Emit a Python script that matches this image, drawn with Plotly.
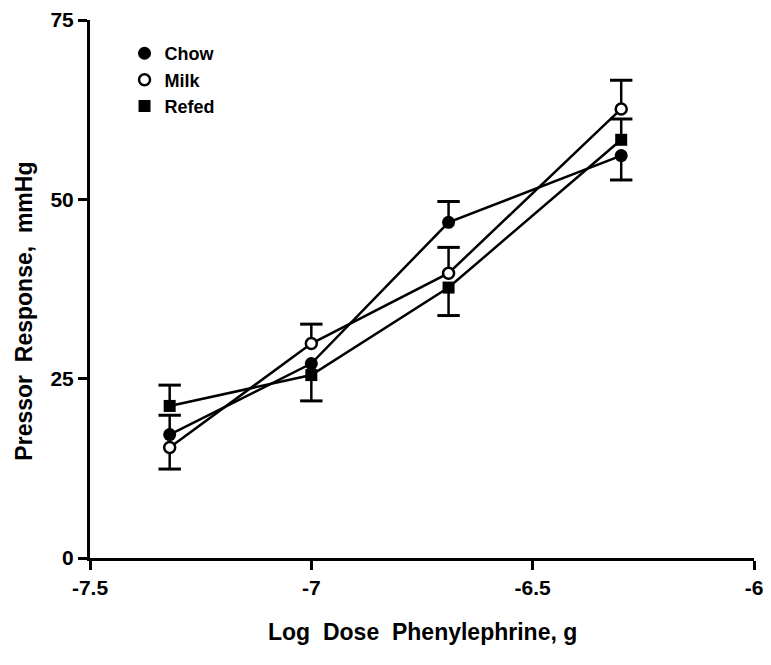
import plotly.graph_objects as go

# ---- data ----
dose = [-7.32, -7.0, -6.69, -6.30]

chow = [17.2, 27.1, 46.8, 56.1]
milk = [15.4, 29.9, 39.7, 62.6]
refed = [21.2, 25.5, 37.7, 58.3]

# visible SEM bars (upper / lower); None = not drawn in the original
chow_up = [2.7, None, 2.9, None]
chow_dn = [None, None, None, 3.4]
milk_up = [None, 2.7, 3.6, 4.0]
milk_dn = [3.0, None, None, None]
refed_up = [2.9, None, None, 2.9]
refed_dn = [None, 3.6, 3.9, None]

x_tickvals = [-7.5, -7, -6.5, -6]
x_ticktext = ["-7.5", "-7", "-6.5", "-6"]
y_tickvals = [0, 25, 50, 75]
y_ticktext = ["0", "25", "50", "75"]

FONT = "Liberation Sans"
INK = "black"


def err_segments(x, y, up, dn):
    sx, sy, cx, cy = [], [], [], []
    for xi, yi, u, d in zip(x, y, up, dn):
        for e, sgn in ((u, 1), (d, -1)):
            if e is None:
                continue
            end = yi + sgn * e
            sx += [xi, xi, None]
            sy += [yi, end, None]
            cx.append(xi)
            cy.append(end)
    return sx, sy, cx, cy


series = [
    ("Chow", chow, chow_up, chow_dn, dict(symbol="circle", size=13, color=INK,
                                          line=dict(color=INK, width=0))),
    ("Milk", milk, milk_up, milk_dn, dict(symbol="circle", size=11, color="white",
                                          line=dict(color=INK, width=2.5))),
    ("Refed", refed, refed_up, refed_dn, dict(symbol="square", size=12, color=INK,
                                              line=dict(color=INK, width=0))),
]

fig = go.Figure()

# connecting lines
for name, vals, up, dn, mk in series:
    fig.add_trace(go.Scatter(x=dose, y=vals, mode="lines",
                             line=dict(color=INK, width=2.5),
                             showlegend=False, hoverinfo="skip"))

# error bars (stems + caps)
for name, vals, up, dn, mk in series:
    sx, sy, cx, cy = err_segments(dose, vals, up, dn)
    fig.add_trace(go.Scatter(x=sx, y=sy, mode="lines",
                             line=dict(color=INK, width=2.5),
                             showlegend=False, hoverinfo="skip"))
    fig.add_trace(go.Scatter(x=cx, y=cy, mode="markers",
                             marker=dict(symbol="line-ew", size=16,
                                         line=dict(color=INK, width=3)),
                             showlegend=False, hoverinfo="skip"))

# markers (with legend)
for i, (name, vals, up, dn, mk) in enumerate(series):
    fig.add_trace(go.Scatter(x=dose, y=vals, mode="markers", name=name,
                             marker=mk, legendgroup=f"g{i}"))

fig.update_layout(
    width=771, height=665,
    margin=dict(l=90, r=8, t=18, b=107),
    paper_bgcolor="white", plot_bgcolor="white",
    font=dict(family=FONT, size=18, color=INK, weight="bold"),
    showlegend=True,
    legend=dict(x=0.052, y=0.972, xanchor="left", yanchor="top",
                bgcolor="rgba(0,0,0,0)", borderwidth=0,
                font=dict(size=18, family=FONT, color=INK, weight="bold"),
                traceorder="grouped", tracegroupgap=0,
                itemwidth=30),
    xaxis=dict(range=[-7.5, -6], tickmode="array", tickvals=x_tickvals,
               ticktext=x_ticktext, showgrid=False, zeroline=False,
               showline=True, linecolor=INK, linewidth=3,
               ticks="outside", ticklen=9, tickwidth=3, tickcolor=INK,
               tickfont=dict(size=21), ticklabeloverflow="allow"),
    yaxis=dict(range=[0, 75], tickmode="array", tickvals=y_tickvals,
               ticktext=y_ticktext, showgrid=False, zeroline=False,
               showline=True, linecolor=INK, linewidth=3,
               ticks="outside", ticklen=9, tickwidth=3, tickcolor=INK,
               tickfont=dict(size=21), ticklabeloverflow="allow"),
    annotations=[
        dict(text="Log  Dose  Phenylephrine, g", xref="paper", yref="paper",
             x=0.5, y=-0.137, xanchor="center", yanchor="middle",
             showarrow=False, font=dict(size=23)),
        dict(text="Pressor  Response,  mmHg", xref="paper", yref="paper",
             x=-0.1, y=0.459, xanchor="center", yanchor="middle",
             textangle=-90, showarrow=False, font=dict(size=23)),
    ],
)

fig.write_html("out.html")
